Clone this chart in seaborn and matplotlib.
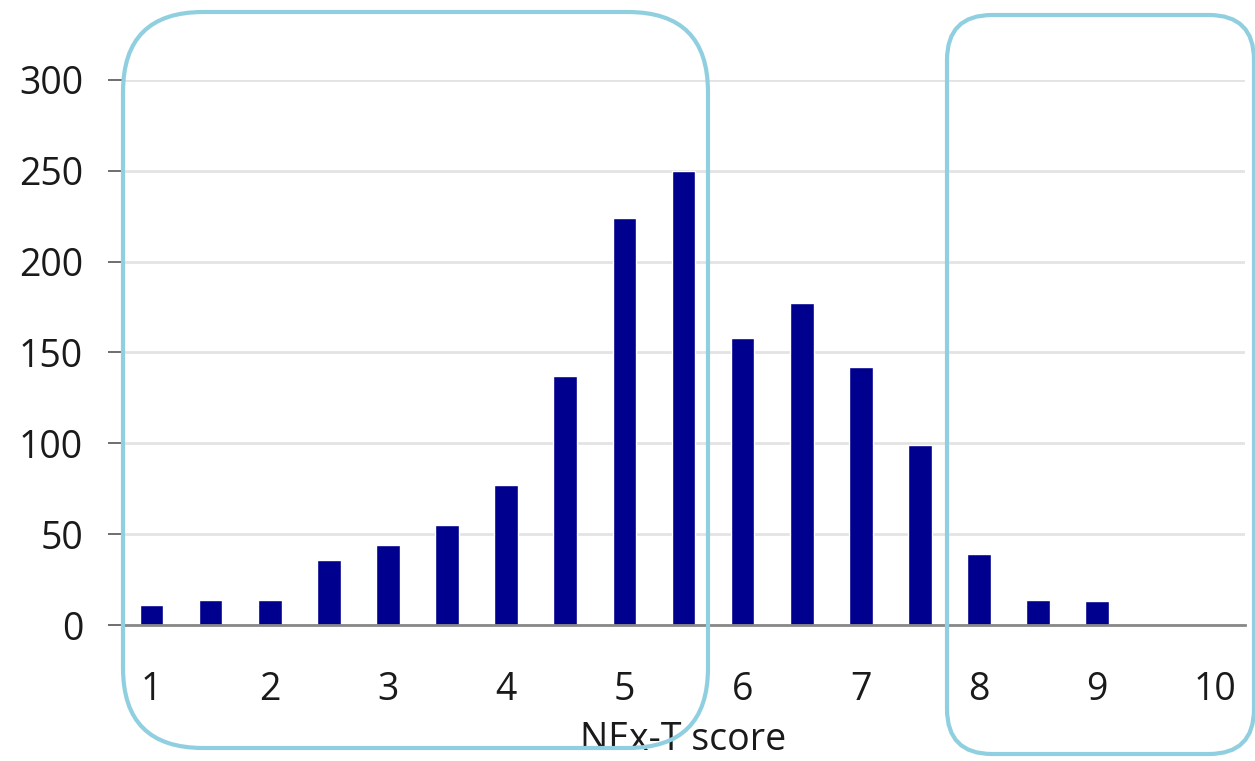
import matplotlib
matplotlib.use("Agg")
import matplotlib.pyplot as plt
import seaborn as sns
import numpy as np
import pandas as pd
from matplotlib.patches import FancyBboxPatch
from matplotlib.transforms import IdentityTransform

# score bins (half-point steps) and counts
scores = ["1", "1.5", "2", "2.5", "3", "3.5", "4", "4.5", "5", "5.5",
          "6", "6.5", "7", "7.5", "8", "8.5", "9", "9.5", "10"]
counts = [11, 14, 14, 36, 44, 55, 77, 137, 224, 250,
          158, 177, 142, 99, 39, 14, 13, 0, 0]
tick_labels = ["1", "2", "3", "4", "5", "6", "7", "8", "9", "10"]
y_ticks = [0, 50, 100, 150, 200, 250, 300]

sns.set_theme(style="white")
plt.rcParams['font.family'] = ['Open Sans', 'DejaVu Sans']

df = pd.DataFrame({"score": scores, "count": counts})

fig = plt.figure(figsize=(12.55, 7.61), dpi=100)
ax = fig.add_axes([122 / 1255, 1 - 625 / 761, (1245 - 122) / 1255, 545 / 761])

sns.barplot(data=df, x="score", y="count", order=scores, color="#00008f",
            width=0.4, saturation=1, ax=ax)

ax.set_xlim(-0.5, len(scores) - 0.5)
ax.set_ylim(0, 300)
ax.set_yticks(y_ticks)
ax.set_yticklabels([str(v) for v in y_ticks], fontsize=27, color="#1a1a1a")
ax.yaxis.grid(True, color="#e3e3e3", linewidth=2)
ax.set_axisbelow(True)

# labels under whole numbers, small ticks between bins
ax.set_xticks(np.arange(0, len(scores), 2))
ax.set_xticklabels(tick_labels, fontsize=27, color="#1a1a1a")
ax.set_xticks(np.arange(-0.5, len(scores), 1), minor=True)
ax.tick_params(axis="x", which="major", length=0, pad=33)
ax.tick_params(axis="x", which="minor", length=7, width=1.5, color="#666666", direction="out")
ax.tick_params(axis="y", length=10, width=1.2, color="#555555", pad=18, left=True)

for side in ["top", "right", "left"]:
    ax.spines[side].set_visible(False)
ax.spines["bottom"].set_color("#888888")
ax.spines["bottom"].set_linewidth(2)

ax.set_ylabel("")
ax.set_xlabel("NEx-T score", fontsize=27, color="#1a1a1a", va="bottom")
ax.xaxis.set_label_coords(0.5, -0.245)

# highlight boxes (pixel coordinates, origin bottom-left)
boxes = [(123, 13, 708, 749, 80), (947, 7, 1254, 746, 45)]
for x0, y0, x1, y1, r in boxes:
    patch = FancyBboxPatch((x0 + r, y0 + r), (x1 - x0) - 2 * r, (y1 - y0) - 2 * r,
                           boxstyle=f"round,pad={r},rounding_size={r}",
                           transform=IdentityTransform(), fill=False,
                           edgecolor="#8fcfe0", linewidth=3, zorder=10)
    fig.patches.append(patch)

fig.savefig("out.png", dpi=100)
